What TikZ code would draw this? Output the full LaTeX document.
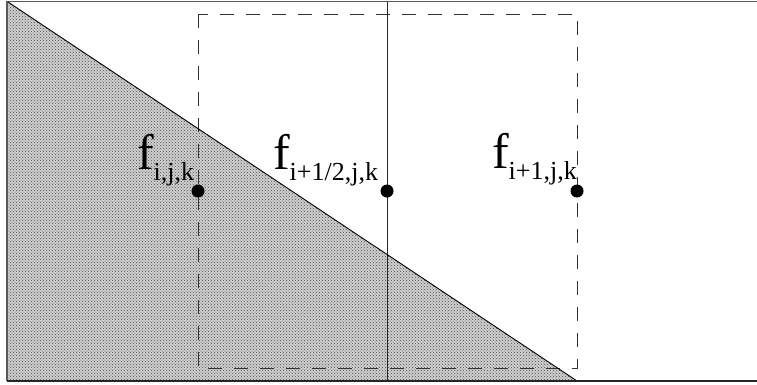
\documentclass[tikz,border=0pt]{standalone}
\usepackage{fontspec}
\setmainfont{Liberation Serif}
\usetikzlibrary{patterns}
\tikzset{
  frame/.style={draw=black!65, line width=1.5pt},
  base/.style={draw=black!85, line width=2pt},
  hyp/.style={draw=black, line width=0.9pt},
  cell/.style={draw=black!80, line width=0.8pt, dash pattern=on 14pt off 12pt},
  face/.style={draw=black!85, line width=1pt},
  pt/.style={circle, fill=black, inner sep=0pt, minimum size=13pt},
  lbl/.style={anchor=base west, inner sep=0pt, outer sep=0pt, text=black}
}
\newcommand{\flab}[1]{{\fontsize{50}{50}\selectfont f}\raisebox{-11pt}{\fontsize{26}{26}\selectfont #1}}
\begin{document}
\begin{tikzpicture}[x=1pt, y=-1pt]
\useasboundingbox (0,0) rectangle (757,384);
\fill[white] (0,0) rectangle (757,384);
% shaded wedge
\coordinate (A) at (8,2);
\coordinate (B) at (8,381);
\coordinate (C) at (577,381);
\fill[gray!38] (A) -- (B) -- (C) -- cycle;
\fill[pattern=crosshatch dots, pattern color=black!70] (A) -- (B) -- (C) -- cycle;
% dashed cell
\coordinate (D1) at (198,14);
\coordinate (D2) at (577,368);
\draw[cell] (D1) rectangle (D2);
% face line
\coordinate (F1) at (387,2);
\coordinate (F2) at (387,381);
\draw[face] (F1) -- (F2);
% hypotenuse
\draw[hyp] (A) -- (C);
% frame
\coordinate (TL) at (7,1.5);
\coordinate (TR) at (757,1.5);
\coordinate (BL) at (7,381);
\coordinate (BR) at (757,381);
\draw[frame] (TR) -- (TL) -- (BL);
\draw[base] (BL) -- (BR);
% points
\node[pt] (p1) at (198,191) {};
\node[pt] (p2) at (387,191) {};
\node[pt] (p3) at (577,191) {};
% labels
\node[lbl] (l1) at (137,169) {\flab{i,j,k}};
\node[lbl] (l2) at (273,169) {\flab{i+1/2,j,k}};
\node[lbl] (l3) at (492,168) {\flab{i+1,j,k}};
\end{tikzpicture}
\end{document}
